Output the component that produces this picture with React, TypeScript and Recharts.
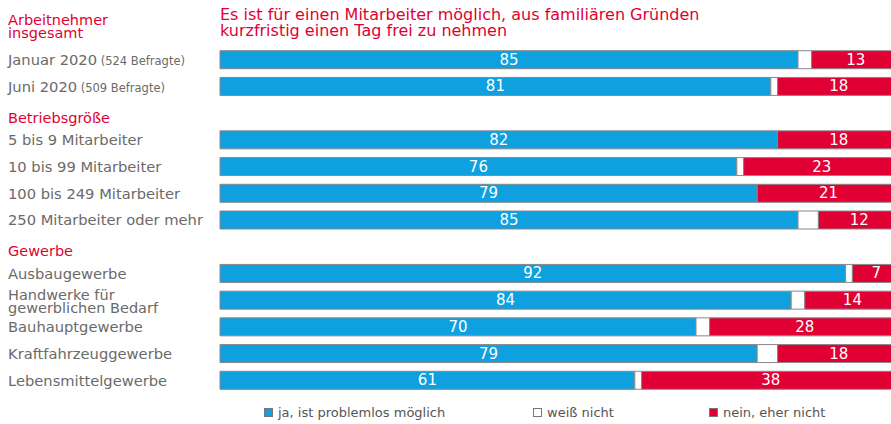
import React from 'react';
import { BarChart, Bar, XAxis, YAxis, LabelList } from 'recharts';

const categories = [
  'Arbeitnehmer insgesamt',
  'Januar 2020',
  'Juni 2020',
  'Betriebsgröße',
  '5 bis 9 Mitarbeiter',
  '10 bis 99 Mitarbeiter',
  '100 bis 249 Mitarbeiter',
  '250 Mitarbeiter oder mehr',
  'Gewerbe',
  'Ausbaugewerbe',
  'Handwerke für gewerblichen Bedarf',
  'Bauhauptgewerbe',
  'Kraftfahrzeuggewerbe',
  'Lebensmittelgewerbe',
];
const headers = ['Arbeitnehmer insgesamt', 'Betriebsgröße', 'Gewerbe'];
const notes: Record<string, string> = {
  'Januar 2020': '(524 Befragte)',
  'Juni 2020': '(509 Befragte)',
};

const ja = [null, 85, 81, null, 82, 76, 79, 85, null, 92, 84, 70, 79, 61];
const weissNicht = [null, 2, 1, null, 0, 1, 0, 3, null, 1, 2, 2, 3, 1];
const nein = [null, 13, 18, null, 18, 23, 21, 12, null, 7, 14, 28, 18, 38];

const seriesNames = ['ja, ist problemlos möglich', 'weiß nicht', 'nein, eher nicht'];
const title = ['Es ist für einen Mitarbeiter möglich, aus familiären Gründen', 'kurzfristig einen Tag frei zu nehmen'];

const BLUE = '#0ea0df';
const RED = '#e00034';
const GREY = '#6a6a6a';
const FONT = '"DejaVu Sans", Verdana, sans-serif';

const data = categories.map((name, i) => ({ name, ja: ja[i], weiss: weissNicht[i], nein: nein[i] }));

const CategoryTick = (props: any) => {
  const { y, payload } = props;
  const name: string = payload.value;
  if (headers.includes(name)) {
    if (name === 'Arbeitnehmer insgesamt') {
      return (
        <text x={8} y={y} fill={RED} fontSize={14.5} fontFamily={FONT}>
          <tspan x={8} dy={-8}>Arbeitnehmer</tspan>
          <tspan x={8} dy={13}>insgesamt</tspan>
        </text>
      );
    }
    return (
      <text x={8} y={y + 9} fill={RED} fontSize={14.5} fontFamily={FONT}>
        {name}
      </text>
    );
  }
  if (name === 'Handwerke für gewerblichen Bedarf') {
    return (
      <text x={8} y={y} fill={GREY} fontSize={14.5} fontFamily={FONT}>
        <tspan x={8} dy={-1}>Handwerke für</tspan>
        <tspan x={8} dy={13}>gewerblichen Bedarf</tspan>
      </text>
    );
  }
  return (
    <text x={8} y={y + 5} fill={GREY} fontSize={14.7} fontFamily={FONT}>
      {name}
      {notes[name] ? <tspan fontSize={11.5}>{' ' + notes[name]}</tspan> : null}
    </text>
  );
};

const barLabel = (props: any) => {
  const { x, y, width, height, value } = props;
  if (value == null || value < 5) return null;
  return (
    <text
      x={x + width / 2}
      y={y + height / 2 + 5}
      textAnchor="middle"
      fill="#ffffff"
      fontSize={15}
      fontFamily={FONT}
    >
      {value}
    </text>
  );
};

export default function App() {
  const legendColors = [BLUE, '#ffffff', RED];
  const legendX = [264, 533, 709];
  return (
    <div style={{ position: 'absolute', left: 0, top: 0, width: 891, height: 424, overflow: 'hidden', background: '#fff' }}>
      <div
        style={{
          position: 'absolute',
          left: 220,
          top: 7,
          color: RED,
          fontFamily: FONT,
          fontSize: 16,
          lineHeight: '16px',
          whiteSpace: 'nowrap',
        }}
      >
        {title.map((t) => (
          <div key={t}>{t}</div>
        ))}
      </div>
      <BarChart
        width={900}
        height={424}
        data={data}
        layout="vertical"
        margin={{ top: 20, right: 0, bottom: 30, left: 0 }}
      >
        <XAxis type="number" domain={[0, 100]} hide />
        <YAxis
          type="category"
          dataKey="name"
          width={220}
          axisLine={false}
          tickLine={false}
          interval={0}
          tick={<CategoryTick />}
        />
        <Bar dataKey="ja" stackId="a" fill={BLUE} stroke="#888888" strokeWidth={1} barSize={18} isAnimationActive={false}>
          <LabelList dataKey="ja" content={barLabel} />
        </Bar>
        <Bar dataKey="weiss" stackId="a" fill="#ffffff" stroke="#888888" strokeWidth={1} barSize={18} isAnimationActive={false} />
        <Bar dataKey="nein" stackId="a" fill={RED} stroke="#888888" strokeWidth={1} barSize={18} isAnimationActive={false}>
          <LabelList dataKey="nein" content={barLabel} />
        </Bar>
      </BarChart>
      {seriesNames.map((s, i) => (
        <div
          key={s}
          style={{
            position: 'absolute',
            left: legendX[i],
            top: 405,
            fontFamily: FONT,
            fontSize: 13,
            color: '#555',
            whiteSpace: 'nowrap',
            display: 'flex',
            alignItems: 'center',
          }}
        >
          <span
            style={{
              display: 'inline-block',
              width: 7,
              height: 7,
              background: legendColors[i],
              border: '1px solid #777',
              marginRight: 5,
            }}
          />
          {s}
        </div>
      ))}
    </div>
  );
}
